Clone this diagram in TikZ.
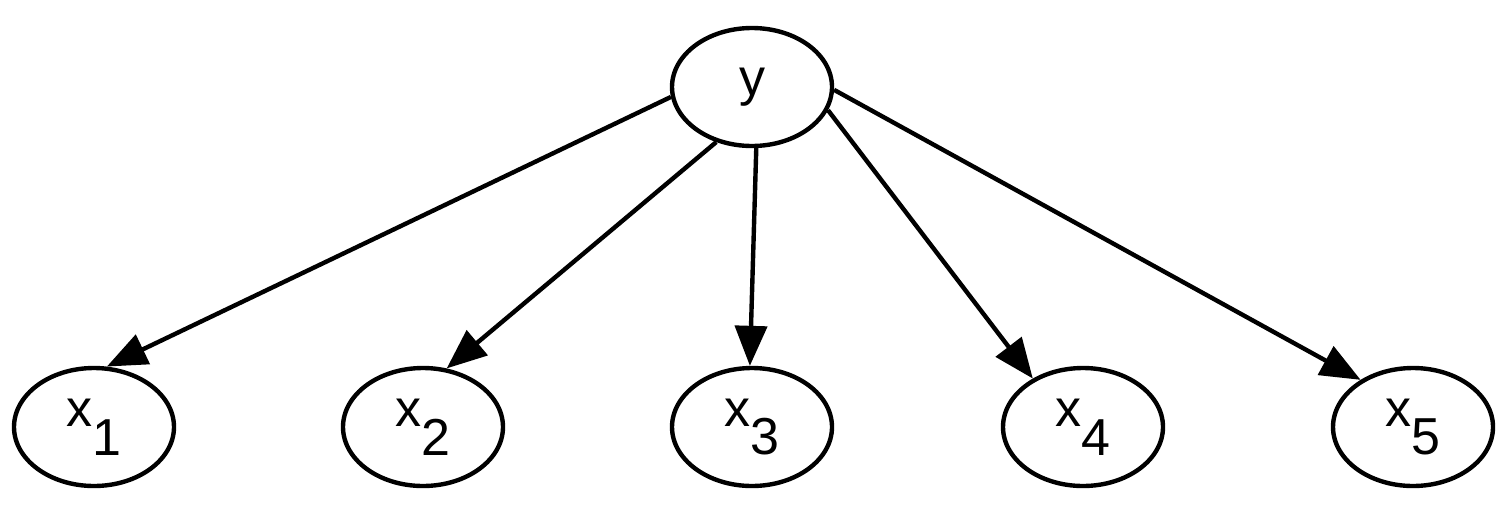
\documentclass[tikz,border=0pt]{standalone}
\usepackage{fontspec}
\setmainfont{Liberation Sans}
\usetikzlibrary{shapes.geometric,arrows.meta}
\begin{document}
\begin{tikzpicture}[x=0.5pt,y=-0.5pt,
  var/.style={draw,line width=2.2pt,ellipse,minimum width=80pt,minimum height=59pt,inner sep=0pt,font=\fontsize{26}{26}\selectfont},
  edge/.style={line width=2.2pt,-{Triangle[length=20pt,width=16pt]}}]
\useasboundingbox (0,0) rectangle (1509,509);
\newcommand{\xs}[1]{x\raisebox{-0.55em}{#1}}
\node[var] (y) at (752,87) {y};
\node[var] (x1) at (94,427) {\xs{1}};
\node[var] (x2) at (423,427) {\xs{2}};
\node[var] (x3) at (752,427) {\xs{3}};
\node[var] (x4) at (1083,427) {\xs{4}};
\node[var] (x5) at (1413,427) {\xs{5}};
\draw[edge] (y.187) -- (x1.78);
\draw[edge] (y.237) -- (x2.68);
\draw[edge] (y.274) -- (x3.92);
\draw[edge] (y.343) -- (x4.136);
\draw[edge] (y.358) -- (x5.138);
\end{tikzpicture}
\end{document}
